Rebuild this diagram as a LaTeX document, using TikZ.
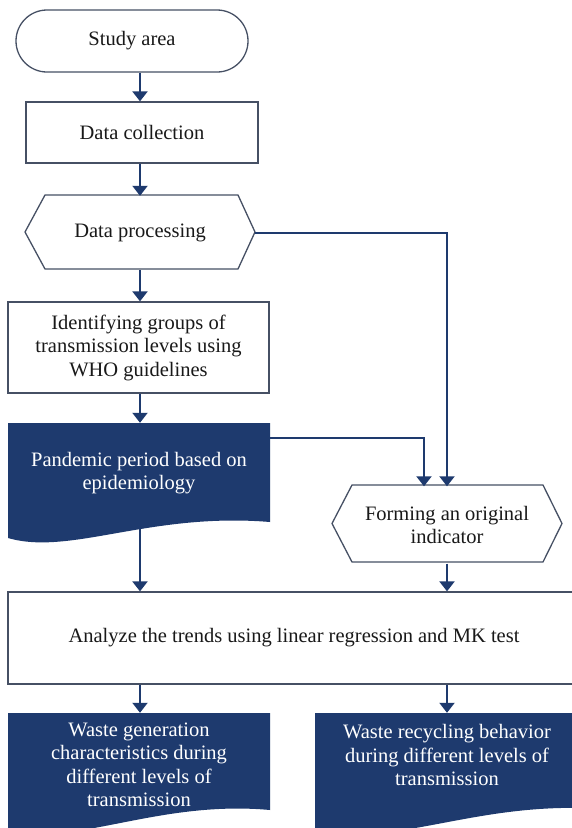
\documentclass[tikz,border=0pt]{standalone}
\usepackage{fontspec}
\setmainfont{Liberation Serif}
\usetikzlibrary{arrows.meta,calc}
\definecolor{navy}{RGB}{30,58,110}
\definecolor{edge}{RGB}{70,80,100}
\definecolor{ink}{RGB}{25,25,25}
\begin{document}
\begin{tikzpicture}[x=1pt,y=-1pt,
  font=\fontsize{20.5}{23.5}\selectfont,
  box/.style={draw=edge, line width=1.3pt, text=ink, align=center, inner sep=0pt},
  plain/.style={text=ink, align=center, inner sep=0pt},
  dark/.style={text=white, align=center, inner sep=0pt},
  arr/.style={draw=navy, line width=2pt, -{Triangle[width=15pt,length=10pt]}},
  shapeline/.style={draw=edge, line width=1.3pt},
  docfill/.style={fill=navy}]
\clip (0,0) rectangle (572,828);
\fill[white] (0,0) rectangle (572,828);
\coordinate (cx) at (140,0);
\coordinate (rx) at (447,0);

% shapes drawn directly
\draw[shapeline] (25,232) -- (45,195) -- (238,195) -- (255,232) -- (238,269) -- (45,269) -- cycle;
\fill[docfill] (8,423) -- (270,423) -- (270,522) .. controls (150,512) and (70,556) .. (8,538) -- cycle;
\draw[shapeline] (332,523.5) -- (352,485) -- (543,485) -- (562,523.5) -- (543,562) -- (352,562) -- cycle;
\fill[docfill] (8,713) -- (270,713) -- (270,810) .. controls (160,800) and (80,845) .. (8,832) -- cycle;
\fill[docfill] (315,713) -- (585,713) -- (585,808) .. controls (470,805) and (400,845) .. (315,832) -- cycle;

% nodes
\node[box, rounded corners=31pt, minimum width=232pt, minimum height=62pt] (sa) at (132,41) {Study area};
\node[box, minimum width=232pt, minimum height=61pt] (dc) at (142,132.5) {Data collection};
\node[plain, minimum width=230pt, minimum height=74pt] (dp) at (140,233) {Data processing};
\node[box, minimum width=261pt, minimum height=91pt] (id) at (138.5,347.5) {Identifying groups of\\transmission levels using\\WHO guidelines};
\node[dark, minimum width=262pt, minimum height=100pt] (pp) at (139,473) {Pandemic period based on\\epidemiology};
\node[plain, minimum width=230pt, minimum height=77pt] (fo) at (447,525) {Forming an original\\indicator};
\node[box, minimum width=572pt, minimum height=92pt] (an) at (294,638) {Analyze the trends using linear regression and MK test};
\node[dark, minimum width=262pt, minimum height=104pt] (wg) at (139,765) {Waste generation\\characteristics during\\different levels of\\transmission};
\node[dark, minimum width=265pt, minimum height=84pt] (wr) at (447,755) {Waste recycling behavior\\during different levels of\\transmission};

% connectors
\draw[arr] (sa.south -| cx) -- (dc.north -| cx);
\draw[arr] (dc.south -| cx) -- (dp.north -| cx);
\draw[arr] (dp.south -| cx) -- (id.north -| cx);
\draw[arr] (id.south -| cx) -- (pp.north -| cx);
\draw[arr] (dp.east) -| (fo.north);
\draw[arr] ($(pp.north east)+(0,15)$) -| ($(fo.north)+(-23,0)$);
\draw[arr] (pp.south -| cx) -- (an.north -| cx);
\draw[arr] (fo.south) -- (an.north -| fo.south);
\draw[arr] (an.south -| cx) -- (wg.north -| cx);
\draw[arr] (an.south -| rx) -- (wr.north -| rx);
\end{tikzpicture}
\end{document}
